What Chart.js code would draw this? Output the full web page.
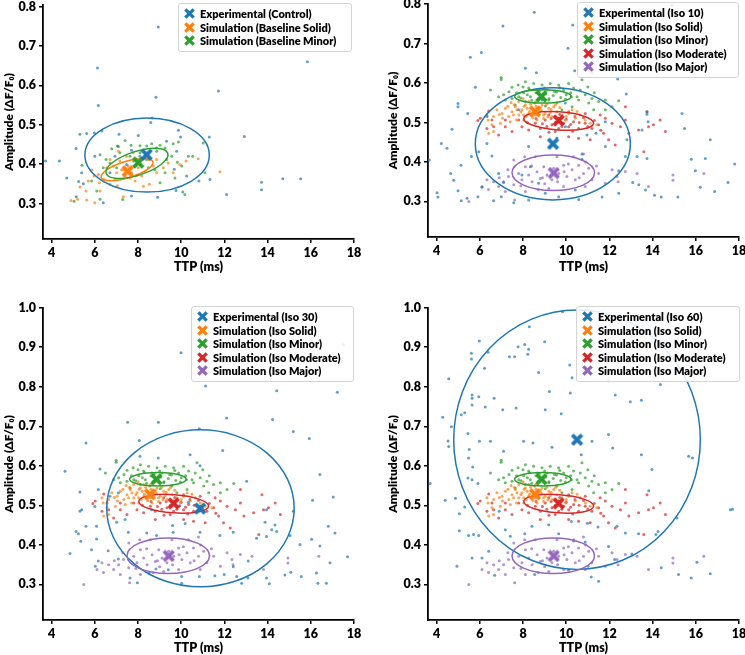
<!DOCTYPE html>
<html>
<head>
<meta charset="utf-8">
<script src="https://cdn.jsdelivr.net/npm/chart.js@4"></script>
<style>
html, body { margin: 0; padding: 0; background: #fff; }
body { width: 745px; height: 655px; position: relative; overflow: hidden; font-family: Lato, "Open Sans", sans-serif; }
canvas { position: absolute; }
.legend { position: absolute; box-sizing: border-box; border: 1px solid #d4d4d4; border-radius: 3px;
  background: rgba(255,255,255,0.85); padding: 3px 4px 3px 5px; font-weight: 800; font-size: 11px; color: #000; }
.legend div { height: 13.5px; line-height: 13.5px; display: flex; align-items: center; white-space: nowrap; }
.legend svg { margin-right: 5px; flex: none; }
</style>
</head>
<body>
<canvas id="c1"></canvas>
<canvas id="c2"></canvas>
<canvas id="c3"></canvas>
<canvas id="c4"></canvas>

<script>
// tab10 colours
var BLUE = '#1f77b4', ORANGE = '#ff7f0e', GREEN = '#2ca02c', RED = '#d62728', PURPLE = '#9467bd';

var xTicks = [4, 6, 8, 10, 12, 14, 16, 18];
var yTicksLow = [0.3, 0.4, 0.5, 0.6, 0.7, 0.8];
var yTicksHigh = [0.3, 0.4, 0.5, 0.6, 0.7, 0.8, 0.9, 1.0];

var legendControl = ['Experimental (Control)', 'Simulation (Baseline Solid)', 'Simulation (Baseline Minor)'];
var legendIso10 = ['Experimental (Iso 10)', 'Simulation (Iso Solid)', 'Simulation (Iso Minor)', 'Simulation (Iso Moderate)', 'Simulation (Iso Major)'];
var legendIso30 = ['Experimental (Iso 30)', 'Simulation (Iso Solid)', 'Simulation (Iso Minor)', 'Simulation (Iso Moderate)', 'Simulation (Iso Major)'];
var legendIso60 = ['Experimental (Iso 60)', 'Simulation (Iso Solid)', 'Simulation (Iso Minor)', 'Simulation (Iso Moderate)', 'Simulation (Iso Major)'];

// [TTP (ms), amplitude]
var expControl = [[8.94,0.748],[6.12,0.644],[6.16,0.549],[8.83,0.570],[11.72,0.586],[15.84,0.660],[8.65,0.517],[8.59,0.506],
  [3.72,0.408],[4.36,0.408],[4.70,0.365],[5.13,0.440],[5.31,0.476],[5.62,0.478],[5.98,0.479],[6.33,0.484],[5.14,0.317],
  [5.25,0.356],[5.47,0.350],[5.39,0.378],[6.39,0.302],[7.12,0.476],[8.01,0.473],[9.87,0.486],[9.97,0.469],[11.30,0.469],
  [12.92,0.470],[8.91,0.316],[7.70,0.319],[9.76,0.333],[10.07,0.329],[10.82,0.357],[11.33,0.361],[12.10,0.323],[13.72,0.354],
  [13.72,0.335],[14.70,0.363],[15.53,0.363],[10.25,0.370],[9.68,0.387],[7.70,0.435],[7.09,0.445],[8.86,0.441],[9.32,0.458],
  [9.79,0.433],[6.00,0.420],[6.70,0.378],[8.09,0.420],[7.47,0.399],[6.93,0.420]];

var baseSolid = [[4.90,0.308],[5.20,0.311],[5.62,0.309],[5.31,0.342],[5.59,0.332],[5.70,0.357],[5.96,0.370],[5.85,0.385],
  [6.16,0.374],[6.42,0.361],[6.55,0.391],[6.21,0.353],[6.70,0.349],[6.93,0.361],[7.01,0.378],[6.86,0.395],[7.16,0.408],
  [7.24,0.386],[7.40,0.370],[7.55,0.395],[7.70,0.378],[7.86,0.357],[8.01,0.391],[8.17,0.370],[8.32,0.382],[8.52,0.349],
  [8.71,0.395],[8.86,0.378],[9.17,0.391],[9.40,0.403],[9.63,0.378],[9.94,0.399],[10.22,0.408],[10.79,0.414],[11.79,0.381],
  [7.47,0.420],[7.04,0.345],[7.32,0.317],[8.25,0.344],[7.78,0.429],[6.24,0.332],[6.00,0.302],[7.09,0.433],[8.09,0.403],
  [8.48,0.412],[8.86,0.412],[6.70,0.412],[7.35,0.385],[7.62,0.365],[7.95,0.372]];

var baseMinor = [[5.04,0.306],[5.41,0.397],[6.24,0.424],[6.52,0.412],[6.78,0.439],[7.04,0.446],[7.40,0.460],[7.68,0.448],
  [8.09,0.447],[8.40,0.446],[8.63,0.452],[9.02,0.448],[8.86,0.433],[9.25,0.441],[9.63,0.452],[9.87,0.456],[9.56,0.420],
  [9.82,0.405],[10.02,0.395],[10.33,0.420],[10.53,0.420],[11.02,0.454],[11.10,0.378],[10.17,0.323],[9.71,0.365],[9.25,0.378],
  [9.33,0.412],[8.40,0.412],[8.09,0.429],[7.63,0.420],[7.16,0.429],[6.70,0.403],[6.39,0.391],[6.09,0.332],[5.85,0.357],
  [6.24,0.311],[7.29,0.310],[8.78,0.386],[9.02,0.353],[7.86,0.395],[8.48,0.391],[7.01,0.391],[8.25,0.415],[7.80,0.408]];

var isoSolid = [[6.33,0.519],[6.38,0.506],[6.64,0.515],[6.79,0.532],[7.03,0.523],[7.18,0.536],[7.34,0.515],[7.49,0.527],
  [7.64,0.540],[7.80,0.519],[7.95,0.532],[8.11,0.544],[8.26,0.523],[8.42,0.536],[8.57,0.519],[8.72,0.532],[8.88,0.544],
  [9.03,0.523],[9.19,0.536],[9.34,0.515],[9.57,0.527],[9.80,0.519],[10.11,0.523],[10.42,0.511],[10.65,0.519],[10.88,0.506],
  [11.11,0.498],[11.42,0.494],[10.27,0.532],[9.42,0.540],[8.65,0.506],[8.03,0.506],[7.41,0.502],[6.95,0.498],[6.64,0.477],
  [7.80,0.553],[8.26,0.553],[7.56,0.519],[8.03,0.519],[8.49,0.525],[8.95,0.519],[7.72,0.532],[8.19,0.536],[8.80,0.538],
  [9.26,0.525],[9.96,0.506],[6.56,0.494],[6.41,0.473],[7.60,0.545],[7.90,0.527],[8.05,0.541],[8.15,0.515],[8.35,0.546],
  [8.45,0.512],[8.60,0.541],[8.70,0.521],[8.85,0.531],[9.10,0.546],[9.15,0.514],[9.30,0.533],[9.50,0.545],[7.30,0.541],
  [7.05,0.511],[6.90,0.520],[7.70,0.506],[8.30,0.528],[8.95,0.510],[9.70,0.538],[10.00,0.515],[10.50,0.528],[7.45,0.550],
  [8.00,0.560],[8.60,0.553]];

var isoMinor = [[6.99,0.614],[6.99,0.609],[7.49,0.589],[7.77,0.595],[8.11,0.603],[8.49,0.599],[8.88,0.595],[9.26,0.599],
  [9.65,0.595],[10.11,0.599],[10.34,0.587],[10.65,0.582],[10.88,0.570],[11.19,0.561],[11.50,0.553],[11.81,0.557],[12.43,0.555],
  [12.12,0.540],[11.04,0.549],[10.57,0.557],[10.24,0.565],[9.96,0.559],[9.57,0.549],[9.19,0.557],[8.72,0.561],[8.34,0.565],
  [8.03,0.575],[7.80,0.565],[7.49,0.561],[7.18,0.557],[7.10,0.570],[6.87,0.565],[8.26,0.587],[8.65,0.582],[9.11,0.582],
  [9.46,0.578],[9.88,0.582],[8.54,0.549],[8.11,0.553],[7.64,0.544],[9.03,0.542],[10.27,0.540],[11.27,0.532],[11.81,0.532],
  [9.80,0.532],[10.73,0.608],[6.49,0.582],[7.70,0.575],[7.90,0.562],[8.20,0.570],[8.40,0.556],[8.60,0.575],[8.75,0.580],
  [8.90,0.566],[9.05,0.572],[9.20,0.560],[9.40,0.568],[9.55,0.577],[9.75,0.563],[10.00,0.570],[10.20,0.575],[8.30,0.583],
  [9.00,0.587],[9.70,0.588],[8.00,0.590],[7.35,0.578],[10.50,0.565],[11.30,0.575],[11.00,0.590]];

var isoModerate = [[5.91,0.505],[6.02,0.511],[6.56,0.506],[6.64,0.489],[6.33,0.485],[6.87,0.468],[7.18,0.489],[7.49,0.477],
  [7.95,0.489],[8.26,0.481],[8.57,0.498],[8.80,0.485],[9.03,0.506],[9.34,0.494],[9.65,0.511],[9.88,0.498],[10.11,0.489],
  [10.34,0.502],[10.57,0.485],[10.88,0.498],[11.19,0.485],[11.50,0.494],[11.81,0.511],[12.12,0.498],[12.51,0.489],[12.74,0.506],
  [11.73,0.473],[11.96,0.456],[12.27,0.443],[11.11,0.456],[10.57,0.460],[10.11,0.464],[9.49,0.477],[9.19,0.519],[8.42,0.519],
  [7.80,0.506],[7.18,0.506],[10.11,0.527],[10.88,0.523],[11.57,0.519],[9.65,0.485],[13.35,0.481],[13.81,0.489],[14.04,0.494],
  [14.35,0.506],[14.59,0.477],[13.74,0.527],[13.59,0.426],[12.74,0.540],[12.90,0.473],[6.41,0.529],[8.80,0.464],[8.60,0.510],
  [8.90,0.497],[9.10,0.490],[9.30,0.510],[9.50,0.500],[9.70,0.520],[9.80,0.490],[10.00,0.508],[10.20,0.495],[10.40,0.515],
  [10.60,0.500],[10.80,0.512],[11.00,0.490],[9.20,0.475],[10.30,0.478],[8.20,0.500],[11.30,0.505],[11.60,0.480]];

var isoMajor = [[5.49,0.300],[6.10,0.338],[6.33,0.355],[6.64,0.350],[6.87,0.338],[7.10,0.350],[7.33,0.363],[7.57,0.342],
  [7.61,0.304],[7.80,0.371],[7.95,0.355],[8.11,0.388],[8.26,0.367],[8.42,0.350],[8.65,0.375],[8.80,0.358],[8.96,0.388],
  [9.11,0.367],[9.34,0.355],[9.42,0.384],[9.65,0.371],[9.88,0.392],[10.03,0.363],[10.27,0.380],[10.42,0.355],[10.57,0.392],
  [10.80,0.371],[11.04,0.384],[11.19,0.355],[11.50,0.371],[11.81,0.346],[12.12,0.380],[12.35,0.363],[12.74,0.376],[13.28,0.371],
  [13.81,0.338],[14.94,0.367],[14.94,0.354],[16.37,0.371],[8.08,0.413],[8.57,0.413],[9.57,0.413],[10.80,0.420],[7.18,0.325],
  [8.11,0.325],[9.19,0.333],[9.88,0.338],[10.88,0.338],[7.57,0.405],[10.34,0.413],[8.40,0.390],[8.90,0.360],[9.00,0.345],
  [9.60,0.350],[9.90,0.375],[10.10,0.395],[10.60,0.360],[8.70,0.330],[7.90,0.340],[7.30,0.380],[6.90,0.360],[11.40,0.390],
  [12.40,0.350],[6.40,0.330],[10.90,0.400]];

var expIso10 = [[8.52,0.779],[7.07,0.744],[5.56,0.665],[6.07,0.677],[8.11,0.637],[8.62,0.626],[10.08,0.688],[10.30,0.747],
  [14.90,0.797],[10.39,0.631],[11.19,0.626],[12.38,0.610],[12.78,0.572],[5.79,0.589],[4.99,0.548],[4.99,0.540],[5.44,0.523],
  [4.71,0.483],[4.22,0.447],[4.48,0.435],[3.66,0.405],[4.02,0.322],[4.06,0.311],[4.65,0.371],[4.79,0.354],[4.99,0.327],
  [5.14,0.302],[5.41,0.308],[5.91,0.312],[6.10,0.336],[5.13,0.392],[5.61,0.414],[5.95,0.426],[6.33,0.447],[6.56,0.415],
  [6.87,0.371],[7.10,0.348],[6.64,0.302],[6.99,0.312],[7.57,0.297],[8.26,0.304],[8.72,0.346],[9.03,0.321],[9.65,0.312],
  [10.58,0.305],[11.66,0.311],[12.43,0.321],[12.43,0.378],[12.74,0.414],[12.81,0.456],[11.81,0.439],[10.73,0.420],[10.73,0.407],
  [11.38,0.473],[10.96,0.468],[9.96,0.489],[8.34,0.388],[7.95,0.367],[8.26,0.439],[13.74,0.527],[13.74,0.521],[13.51,0.481],
  [13.79,0.502],[13.74,0.409],[13.28,0.414],[13.08,0.348],[13.36,0.342],[14.09,0.316],[13.67,0.329],[14.40,0.311],[15.17,0.311],
  [15.36,0.523],[15.48,0.485],[15.79,0.407],[15.98,0.378],[16.21,0.336],[16.44,0.409],[16.67,0.456],[16.87,0.325],[17.49,0.348],
  [17.80,0.395],[10.42,0.329],[9.57,0.461],[8.88,0.557],[7.80,0.532],[9.96,0.549],[6.33,0.515],[11.81,0.502]];

var expIso30 = [[9.99,0.886],[17.50,0.906],[11.13,0.802],[14.42,0.790],[17.23,0.786],[12.10,0.721],[14.23,0.717],[15.19,0.687],
  [15.93,0.669],[10.84,0.694],[8.94,0.710],[7.52,0.710],[8.06,0.664],[11.92,0.639],[5.59,0.658],[4.62,0.586],[6.24,0.592],
  [8.09,0.624],[8.94,0.620],[10.41,0.628],[10.87,0.600],[13.03,0.561],[16.42,0.578],[16.08,0.513],[17.04,0.521],[5.31,0.534],
  [5.39,0.489],[5.31,0.485],[6.00,0.497],[6.08,0.447],[5.59,0.447],[5.13,0.434],[5.24,0.428],[4.85,0.378],[5.35,0.409],
  [5.85,0.388],[6.16,0.359],[6.02,0.346],[6.08,0.415],[6.62,0.385],[7.09,0.364],[7.55,0.432],[8.40,0.430],[8.86,0.424],
  [9.63,0.432],[10.18,0.454],[9.60,0.449],[10.87,0.432],[11.79,0.424],[12.41,0.432],[10.02,0.320],[10.02,0.303],[10.84,0.320],
  [11.56,0.322],[12.80,0.303],[13.09,0.316],[13.95,0.316],[14.08,0.302],[14.80,0.324],[15.07,0.331],[15.56,0.320],[16.26,0.329],
  [16.72,0.303],[16.33,0.303],[17.70,0.370],[13.49,0.417],[13.95,0.421],[14.19,0.438],[14.34,0.450],[13.88,0.457],[14.42,0.434],
  [15.04,0.424],[15.50,0.401],[16.04,0.414],[16.42,0.397],[16.81,0.447],[17.12,0.430],[16.89,0.355],[13.10,0.359],[12.41,0.345],
  [12.57,0.320],[11.99,0.325],[8.51,0.329],[9.40,0.337],[7.97,0.304],[7.63,0.316],[8.83,0.339],[7.40,0.464],[7.01,0.457],
  [8.63,0.489],[9.94,0.499],[10.33,0.508],[7.09,0.531],[6.70,0.523],[6.16,0.540],[13.95,0.489],[15.19,0.485]];

var expIso60 = [[9.83,0.990],[8.29,0.952],[5.98,0.916],[5.61,0.885],[5.61,0.870],[6.38,0.887],[4.56,0.820],[6.22,0.847],
  [7.37,0.876],[7.61,0.876],[7.77,0.901],[8.08,0.907],[8.26,0.895],[8.22,0.882],[9.00,0.914],[8.72,0.836],[10.16,0.855],
  [10.27,0.823],[11.96,0.815],[12.27,0.779],[12.97,0.762],[13.48,0.766],[14.36,0.806],[9.22,0.788],[10.19,0.784],[5.64,0.779],
  [5.64,0.771],[5.64,0.754],[5.95,0.775],[6.25,0.749],[6.66,0.771],[7.06,0.742],[7.68,0.746],[5.14,0.729],[5.30,0.734],
  [4.28,0.723],[4.68,0.699],[4.56,0.649],[4.53,0.663],[5.45,0.682],[5.51,0.641],[5.48,0.620],[5.67,0.597],[5.45,0.569],
  [5.64,0.565],[5.91,0.555],[3.70,0.555],[4.40,0.513],[5.05,0.479],[5.30,0.496],[4.87,0.518],[5.05,0.436],[5.48,0.424],
  [5.71,0.426],[5.95,0.424],[5.64,0.367],[4.94,0.346],[6.69,0.323],[6.41,0.384],[7.10,0.637],[6.49,0.662],[5.98,0.662],
  [8.03,0.662],[8.46,0.658],[9.34,0.647],[9.77,0.732],[9.03,0.742],[10.70,0.628],[11.19,0.662],[11.96,0.679],[12.15,0.645],
  [13.48,0.628],[13.97,0.591],[15.67,0.624],[15.85,0.620],[17.60,0.489],[17.70,0.490],[15.13,0.468],[13.82,0.537],[14.25,0.434],
  [14.15,0.426],[13.35,0.428],[14.40,0.342],[15.20,0.325],[15.79,0.316],[16.67,0.327],[16.05,0.356],[12.74,0.430],[12.35,0.447],
  [11.96,0.396],[11.47,0.445],[10.98,0.455],[10.24,0.459],[10.88,0.407],[10.34,0.410],[9.65,0.428],[9.19,0.451],[8.41,0.447],
  [8.08,0.428],[7.41,0.422],[7.18,0.438],[6.90,0.485],[8.54,0.325],[10.11,0.336],[11.16,0.319],[11.50,0.308],[12.24,0.363],
  [11.01,0.346],[13.04,0.377],[6.10,0.367]];

// group means [TTP, amplitude]
var meanControl = [[8.40,0.424],[7.52,0.382],[8.01,0.404]];
var meanIso = [[8.55,0.528],[8.85,0.566],[9.65,0.505],[9.42,0.372]];
var meanIso10 = [9.39,0.446];
var meanIso30 = [10.87,0.492];
var meanIso60 = [10.50,0.666];

// ellipses [centre TTP, centre amp, half width (ms), half height, tilt deg]; null = none visible
var ellControl = [[8.42,0.423,2.88,0.094,0],[7.49,0.386,1.25,0.021,-17],[7.95,0.402,1.50,0.030,-18]];
var ellIso = [null,[8.92,0.566,1.31,0.017,0],[9.65,0.504,1.62,0.023,4],[9.40,0.3725,1.91,0.045,0]];
var ellIso10 = [9.38,0.446,3.59,0.142,0];
var ellIso30 = [10.89,0.4925,4.34,0.1985,0];
var ellIso60 = [10.50,0.666,5.71,0.328,0];

function rgba(hex, a) {
	var n = parseInt(hex.slice(1), 16);
	return 'rgba(' + (n >> 16) + ',' + ((n >> 8) & 255) + ',' + (n & 255) + ',' + a + ')';
}

function xMarker(color) {
	var c = document.createElement('canvas');
	c.width = 13; c.height = 13;
	var g = c.getContext('2d');
	g.translate(6.5, 6.5);
	g.rotate(Math.PI / 4);
	g.fillStyle = color;
	g.fillRect(-6.8, -1.9, 13.6, 3.8);
	g.fillRect(-1.9, -6.8, 3.8, 13.6);
	return c;
}

function xSvg(color) {
	return '<svg width="11" height="11" viewBox="-6 -6 12 12"><g transform="rotate(45)" fill="' + color + '">' +
		'<rect x="-6.4" y="-1.8" width="12.8" height="3.6"/><rect x="-1.8" y="-6.4" width="3.6" height="12.8"/></g></svg>';
}

function ellipsePlugin(items) {
	return {
		id: 'ellipses',
		beforeDatasetsDraw: function (chart) { chart.$ellDone = false; },
		beforeDatasetDraw: function (chart, args) {
			if (chart.$ellDone || !chart.data.datasets[args.index].isMean) return;
			chart.$ellDone = true;
			var ctx = chart.ctx, area = chart.chartArea, xs = chart.scales.x, ys = chart.scales.y;
			ctx.save();
			ctx.beginPath();
			ctx.rect(area.left, area.top, area.right - area.left, area.bottom - area.top);
			ctx.clip();
			ctx.lineWidth = 1.5;
			items.forEach(function (it) {
				var e = it.e;
				if (!e) return;
				var px = xs.getPixelForValue(e[0]), py = ys.getPixelForValue(e[1]);
				var rx = xs.getPixelForValue(e[0] + e[2]) - px;
				var ry = py - ys.getPixelForValue(e[1] + e[3]);
				ctx.beginPath();
				ctx.ellipse(px, py, rx, ry, e[4] * Math.PI / 180, 0, 2 * Math.PI);
				ctx.strokeStyle = it.color;
				ctx.stroke();
			});
			ctx.restore();
		}
	};
}

Chart.defaults.font.family = 'Lato, "Open Sans", sans-serif';
Chart.defaults.font.weight = 800;
Chart.defaults.font.size = 12;
Chart.defaults.color = '#000';

function makePanel(p) {
	var cv = document.getElementById(p.id);
	cv.width = p.w; cv.height = p.h;
	cv.style.left = p.left + 'px';
	cv.style.top = p.top + 'px';

	var datasets = [];
	p.groups.forEach(function (g) {
		datasets.push({
			data: g.pts.map(function (q) { return { x: q[0], y: q[1] }; }),
			backgroundColor: rgba(g.color, 0.7),
			borderWidth: 0,
			pointRadius: 1.5,
			order: 5
		});
	});
	p.groups.forEach(function (g) {
		datasets.push({
			data: [{ x: g.mean[0], y: g.mean[1] }],
			pointStyle: xMarker(g.color),
			pointRadius: 6,
			isMean: true,
			order: 0
		});
	});
	var ells = p.groups.map(function (g) { return { e: g.ell, color: g.color }; });

	new Chart(cv, {
		type: 'scatter',
		data: { datasets: datasets },
		plugins: [ellipsePlugin(ells)],
		options: {
			responsive: false,
			animation: false,
			layout: { padding: { left: p.padLeft, top: p.padTop, right: p.padRight, bottom: 0 } },
			plugins: { legend: { display: false }, tooltip: { enabled: false } },
			scales: {
				x: {
					type: 'linear', min: 3.6, max: 18,
					afterBuildTicks: function (s) { s.ticks = xTicks.map(function (v) { return { value: v }; }); },
					afterFit: function (s) { s.height = p.xAxisH; },
					ticks: { padding: 2, font: { size: 12.5, weight: 800 }, callback: function (v) { return String(v); } },
					grid: { drawOnChartArea: false, drawTicks: true, tickLength: 4, color: '#000', lineWidth: 1.5 },
					border: { display: true, color: '#000', width: 1.8 },
					title: { display: true, text: 'TTP (ms)', padding: 0, font: { size: 12.5, weight: 800 } }
				},
				y: {
					type: 'linear', min: 0.21, max: p.yMax,
					afterBuildTicks: function (s) { s.ticks = p.yTicks.map(function (v) { return { value: v }; }); },
					afterFit: function (s) { s.width = p.yAxisW; },
					ticks: { padding: 3, font: { size: 12.5, weight: 800 }, callback: function (v) { return v.toFixed(1); } },
					grid: { drawOnChartArea: false, drawTicks: true, tickLength: 4, color: '#000', lineWidth: 1.5 },
					border: { display: true, color: '#000', width: 1.8 },
					title: { display: true, text: 'Amplitude (ΔF/F₀)', padding: 0, font: { size: 12, weight: 800 } }
				}
			}
		}
	});

	var lg = document.createElement('div');
	lg.className = 'legend';
	lg.style.left = p.lg[0] + 'px';
	lg.style.top = p.lg[1] + 'px';
	lg.style.width = p.lg[2] + 'px';
	lg.innerHTML = p.labels.map(function (t, i) {
		return '<div>' + xSvg(p.groups[i].color) + '<span>' + t + '</span></div>';
	}).join('');
	document.body.appendChild(lg);
}

var isoGroups = function (exp, mean, ell) {
	return [
		{ pts: exp, mean: mean, ell: ell, color: BLUE },
		{ pts: isoSolid, mean: meanIso[0], ell: ellIso[0], color: ORANGE },
		{ pts: isoMinor, mean: meanIso[1], ell: ellIso[1], color: GREEN },
		{ pts: isoModerate, mean: meanIso[2], ell: ellIso[2], color: RED },
		{ pts: isoMajor, mean: meanIso[3], ell: ellIso[3], color: PURPLE }
	];
};

makePanel({
	id: 'c1', left: 0, top: -12, w: 372, h: 286, padLeft: 2, yAxisW: 41, padTop: 17, padRight: 18, xAxisH: 35,
	yMax: 0.804, yTicks: yTicksLow, labels: legendControl, lg: [178, 3, 174],
	groups: [
		{ pts: expControl, mean: meanControl[0], ell: ellControl[0], color: BLUE },
		{ pts: baseSolid, mean: meanControl[1], ell: ellControl[1], color: ORANGE },
		{ pts: baseMinor, mean: meanControl[2], ell: ellControl[2], color: GREEN }
	]
});
makePanel({
	id: 'c2', left: 372, top: -12, w: 380, h: 286, padLeft: 14, yAxisW: 42, padTop: 16, padRight: 13, xAxisH: 37,
	yMax: 0.8, yTicks: yTicksLow, labels: legendIso10, lg: [577, 2, 162],
	groups: isoGroups(expIso10, meanIso10, ellIso10)
});
makePanel({
	id: 'c3', left: 0, top: 290, w: 372, h: 365, padLeft: 2, yAxisW: 41, padTop: 17.7, padRight: 18, xAxisH: 35,
	yMax: 1.0, yTicks: yTicksHigh, labels: legendIso30, lg: [191, 306, 163],
	groups: isoGroups(expIso30, meanIso30, ellIso30)
});
makePanel({
	id: 'c4', left: 372, top: 290, w: 380, h: 365, padLeft: 14, yAxisW: 42, padTop: 17.7, padRight: 13, xAxisH: 35,
	yMax: 1.0, yTicks: yTicksHigh, labels: legendIso60, lg: [576, 306, 164],
	groups: isoGroups(expIso60, meanIso60, ellIso60)
});
</script>
</body>
</html>
